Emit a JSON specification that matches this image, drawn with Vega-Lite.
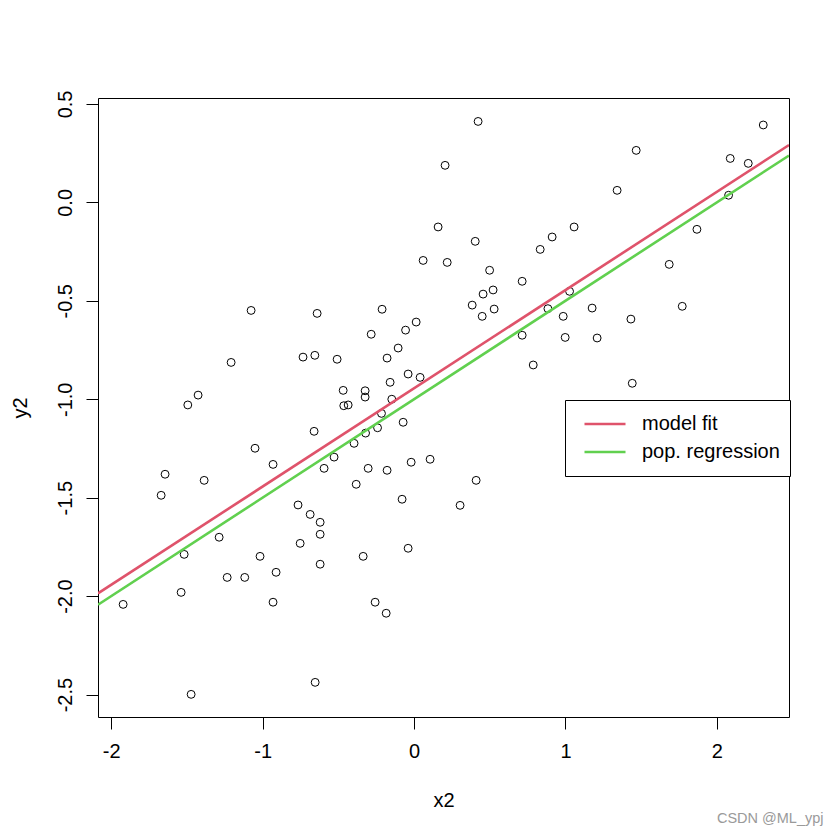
{
  "$schema": "https://vega.github.io/schema/vega-lite/v6.json",
  "width": 691,
  "height": 619,
  "autosize": {"type": "none"},
  "padding": {"left": 98, "top": 98, "right": 51, "bottom": 123},
  "background": "white",
  "title": {"text": "CSDN @ML_ypj", "orient": "bottom", "anchor": "end", "color": "#9a9a9a", "fontSize": 14.5, "font": "Liberation Sans", "fontWeight": "normal", "dx": 33, "offset": 2},
  "config": {
    "view": {"stroke": "black", "strokeWidth": 1},
    "font": "Liberation Sans",
    "axis": {"grid": false, "domain": false, "tickColor": "black", "tickSize": 12, "tickWidth": 1, "labelColor": "black", "labelFontSize": 20, "labelFont": "Liberation Sans", "titleFont": "Liberation Sans", "titleFontSize": 20, "titleFontWeight": "normal", "titleColor": "black", "labelOverlap": false, "labelFlush": false}
  },
  "datasets": {
    "pts": [
      {"x2": -1.076, "y2": -0.549}, {"x2": -0.640, "y2": -0.564}, {"x2": -1.208, "y2": -0.813}, {"x2": -0.733, "y2": -0.786}, {"x2": -0.655, "y2": -0.777},
      {"x2": -1.426, "y2": -0.979}, {"x2": -1.494, "y2": -1.029}, {"x2": 0.423, "y2": 0.411}, {"x2": 0.205, "y2": 0.188}, {"x2": 0.159, "y2": -0.125},
      {"x2": 0.404, "y2": -0.198}, {"x2": 0.912, "y2": -0.176}, {"x2": 0.833, "y2": -0.239}, {"x2": 0.060, "y2": -0.295}, {"x2": 0.219, "y2": -0.305},
      {"x2": 0.499, "y2": -0.345}, {"x2": 0.714, "y2": -0.401}, {"x2": 0.456, "y2": -0.466}, {"x2": 0.522, "y2": -0.445}, {"x2": 0.384, "y2": -0.522},
      {"x2": 0.529, "y2": -0.542}, {"x2": 0.450, "y2": -0.579}, {"x2": -0.211, "y2": -0.543}, {"x2": -0.283, "y2": -0.670}, {"x2": -0.056, "y2": -0.649},
      {"x2": 0.014, "y2": -0.608}, {"x2": -0.105, "y2": -0.740}, {"x2": -0.178, "y2": -0.791}, {"x2": -0.508, "y2": -0.797}, {"x2": 0.884, "y2": -0.540},
      {"x2": 0.714, "y2": -0.675}, {"x2": 0.787, "y2": -0.826}, {"x2": -0.039, "y2": -0.872}, {"x2": 0.040, "y2": -0.889}, {"x2": -0.158, "y2": -0.914},
      {"x2": -0.468, "y2": -0.955}, {"x2": -0.323, "y2": -0.957}, {"x2": -0.323, "y2": -0.989}, {"x2": -0.147, "y2": -1.000}, {"x2": -0.464, "y2": -1.033},
      {"x2": -0.435, "y2": -1.029}, {"x2": 2.306, "y2": 0.393}, {"x2": 1.467, "y2": 0.264}, {"x2": 2.088, "y2": 0.223}, {"x2": 2.207, "y2": 0.198},
      {"x2": 1.341, "y2": 0.061}, {"x2": 2.077, "y2": 0.036}, {"x2": 1.057, "y2": -0.125}, {"x2": 1.868, "y2": -0.137}, {"x2": 1.685, "y2": -0.315},
      {"x2": 1.027, "y2": -0.452}, {"x2": 1.176, "y2": -0.537}, {"x2": 0.985, "y2": -0.579}, {"x2": 1.771, "y2": -0.528}, {"x2": 1.432, "y2": -0.593},
      {"x2": 0.998, "y2": -0.686}, {"x2": 1.209, "y2": -0.689}, {"x2": 1.441, "y2": -0.919}, {"x2": -0.660, "y2": -1.163}, {"x2": -1.050, "y2": -1.249},
      {"x2": -0.931, "y2": -1.331}, {"x2": -0.594, "y2": -1.351}, {"x2": -1.644, "y2": -1.381}, {"x2": -1.386, "y2": -1.412}, {"x2": -1.670, "y2": -1.488},
      {"x2": -0.766, "y2": -1.537}, {"x2": -0.686, "y2": -1.585}, {"x2": -0.620, "y2": -1.625}, {"x2": -0.620, "y2": -1.686}, {"x2": -1.287, "y2": -1.701},
      {"x2": -0.752, "y2": -1.732}, {"x2": -1.518, "y2": -1.788}, {"x2": -1.017, "y2": -1.798}, {"x2": -0.620, "y2": -1.838}, {"x2": -0.911, "y2": -1.879},
      {"x2": -1.234, "y2": -1.905}, {"x2": -1.118, "y2": -1.905}, {"x2": -1.538, "y2": -1.981}, {"x2": -0.931, "y2": -2.031}, {"x2": -1.921, "y2": -2.042},
      {"x2": -0.653, "y2": -2.438}, {"x2": -1.472, "y2": -2.499}, {"x2": -0.215, "y2": -1.072}, {"x2": -0.320, "y2": -1.172}, {"x2": -0.241, "y2": -1.145},
      {"x2": -0.072, "y2": -1.117}, {"x2": -0.396, "y2": -1.224}, {"x2": -0.528, "y2": -1.294}, {"x2": -0.303, "y2": -1.351}, {"x2": -0.178, "y2": -1.361},
      {"x2": -0.019, "y2": -1.320}, {"x2": 0.106, "y2": -1.305}, {"x2": -0.382, "y2": -1.432}, {"x2": -0.079, "y2": -1.508}, {"x2": 0.410, "y2": -1.412},
      {"x2": 0.304, "y2": -1.539}, {"x2": -0.039, "y2": -1.757}, {"x2": -0.336, "y2": -1.798}, {"x2": -0.257, "y2": -2.031}, {"x2": -0.184, "y2": -2.087}
    ],
    "lines": [
      {"series": "model fit", "x2": -2.087, "y2": -1.986},
      {"series": "model fit", "x2": 2.476, "y2": 0.291},
      {"series": "pop. regression", "x2": -2.087, "y2": -2.0435},
      {"series": "pop. regression", "x2": 2.476, "y2": 0.238}
    ]
  },
  "layer": [
    {
      "data": {"name": "pts"},
      "mark": {"type": "point", "shape": "circle", "filled": false, "stroke": "black", "strokeWidth": 1, "size": 62, "opacity": 1},
      "encoding": {
        "x": {"field": "x2", "type": "quantitative", "scale": {"domain": [-2.087, 2.476], "nice": false, "zero": false},
              "axis": {"values": [-2, -1, 0, 1, 2], "title": "x2", "labelPadding": 12, "labelExpr": "datum.value < 0 ? '-' + format(-datum.value, 'd') : format(datum.value, 'd')", "titleBaseline": "alphabetic", "titleY": 89}},
        "y": {"field": "y2", "type": "quantitative", "scale": {"domain": [-2.614, 0.530], "nice": false, "zero": false},
              "axis": {"values": [0.5, 0, -0.5, -1, -1.5, -2, -2.5], "title": "y2", "labelAngle": -90, "labelAlign": "center", "labelBaseline": "alphabetic", "labelPadding": 15, "labelExpr": "datum.value < 0 ? '-' + format(-datum.value, '.1f') : format(datum.value, '.1f')", "titleAngle": -90, "titleAlign": "center", "titleBaseline": "alphabetic", "titleX": -72, "titleY": 309.5}}
      }
    },
    {
      "data": {"name": "lines"},
      "mark": {"type": "line", "strokeWidth": 2.6, "clip": true},
      "encoding": {
        "x": {"field": "x2", "type": "quantitative"},
        "y": {"field": "y2", "type": "quantitative"},
        "color": {"field": "series", "type": "nominal",
                  "scale": {"domain": ["model fit", "pop. regression"], "range": ["#DF536B", "#61D04F"]},
                  "legend": {"title": null, "orient": "none", "legendX": 467, "legendY": 302, "symbolType": "stroke", "symbolSize": 1681, "symbolStrokeWidth": 2.6, "symbolOffset": 8, "labelOffset": 15, "clipHeight": 28, "rowPadding": -2, "padding": 10, "strokeColor": "black", "fillColor": "white", "labelFontSize": 20, "labelFont": "Liberation Sans", "labelColor": "black", "labelLimit": 400}}
      }
    }
  ]
}
